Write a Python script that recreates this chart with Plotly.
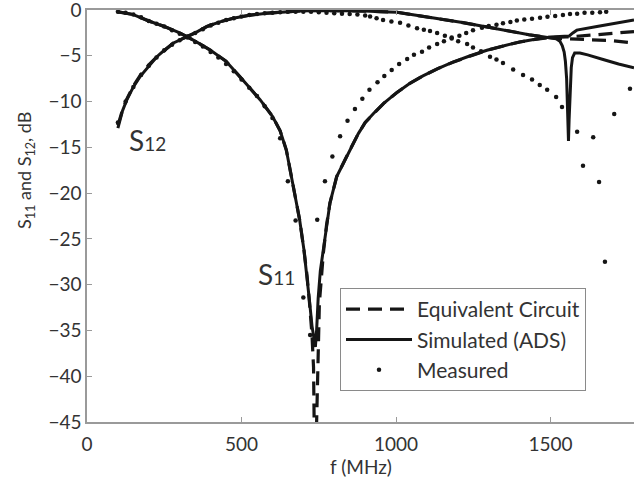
import plotly.graph_objects as go

# ---------------- data ----------------
# Simulated (ADS) S11
sim_s11_f = [100, 150, 200, 250, 300, 324, 350, 400, 450, 495, 530, 560, 600, 625, 645, 665, 688, 702,
             712, 720, 728, 735, 739, 743, 748, 755, 765, 775, 786, 808, 840, 878, 900, 927, 960, 1003,
             1045, 1087, 1135, 1184, 1240, 1294, 1350, 1400, 1450, 1500, 1530, 1550, 1560, 1572, 1585,
             1650, 1700, 1770]
sim_s11_db = [-0.2, -0.5, -1.2, -1.8, -2.5, -2.9, -3.4, -4.4, -5.6, -7.3, -8.6, -9.8, -11.6, -13.2, -15.3,
              -18.9, -22.9, -26.2, -29.0, -31.8, -34.5, -36.2, -36.8, -35.0, -31.5, -28.5, -26.2, -23.5,
              -21.1, -18.2, -16.0, -13.5, -12.3, -11.3, -10.2, -9.0, -8.0, -7.2, -6.4, -5.7, -5.0, -4.4,
              -3.9, -3.5, -3.2, -2.95, -2.9, -2.9, -2.85, -2.5, -2.2, -1.8, -1.5, -1.1]

# Simulated (ADS) S12
sim_s12_f = [100, 115, 129, 150, 171, 200, 226, 250, 280, 324, 350, 388, 430, 473, 530, 582, 640, 689,
             750, 800, 850, 900, 950, 1003, 1060, 1110, 1165, 1220, 1294, 1340, 1380, 1430, 1480, 1518,
             1530, 1538, 1544, 1548, 1552, 1554, 1556, 1558, 1560, 1562, 1564, 1567, 1571, 1578, 1595,
             1620, 1670, 1720, 1770]
sim_s12_db = [-12.9, -11.0, -9.8, -8.4, -7.3, -6.1, -5.1, -4.4, -3.6, -2.9, -2.5, -1.8, -1.3, -0.9, -0.55,
              -0.35, -0.2, -0.1, -0.05, -0.05, -0.08, -0.12, -0.18, -0.25, -0.55, -0.8, -1.1, -1.4, -1.85,
              -2.15, -2.4, -2.7, -2.95, -3.15, -3.4, -3.9, -4.6, -5.6, -7.5, -9.5, -12.0, -14.3, -12.0,
              -9.5, -7.8, -6.3, -5.2, -4.7, -4.7, -4.9, -5.4, -5.9, -6.3]

# Equivalent circuit S11
eq_s11_f = [100, 150, 200, 250, 300, 324, 350, 400, 450, 495, 530, 560, 600, 625, 645, 665, 688, 702,
            712, 720, 728, 733, 737, 740, 743, 747, 752, 765, 775, 786, 808, 840, 878, 900, 927, 960,
            1003, 1045, 1087, 1135, 1184, 1240, 1294, 1350, 1400, 1450, 1500, 1550, 1600, 1650, 1700,
            1770]
eq_s11_db = [-0.2, -0.5, -1.2, -1.8, -2.5, -2.9, -3.4, -4.4, -5.6, -7.3, -8.6, -9.8, -11.6, -13.2, -15.3,
             -18.9, -22.9, -26.2, -29.0, -32.0, -35.5, -39.0, -45.0, -60.0, -45.0, -37.0, -32.0, -26.5,
             -23.5, -21.1, -18.2, -16.0, -13.5, -12.3, -11.3, -10.2, -9.0, -8.0, -7.2, -6.4, -5.7, -5.0,
             -4.4, -3.9, -3.5, -3.2, -3.0, -2.95, -2.85, -2.7, -2.55, -2.35]

# Equivalent circuit S12
eq_s12_f = [100, 115, 129, 150, 171, 200, 226, 250, 280, 324, 350, 388, 430, 473, 530, 582, 640, 689,
            750, 800, 850, 900, 950, 1003, 1060, 1110, 1165, 1220, 1294, 1340, 1380, 1430, 1480, 1520,
            1560, 1600, 1650, 1700, 1770]
eq_s12_db = [-12.6, -10.9, -9.7, -8.3, -7.2, -6.0, -5.1, -4.4, -3.6, -2.9, -2.5, -1.8, -1.3, -0.9, -0.55,
             -0.35, -0.2, -0.1, -0.05, -0.05, -0.08, -0.12, -0.18, -0.25, -0.55, -0.8, -1.1, -1.4, -1.85,
             -2.15, -2.4, -2.7, -2.95, -3.1, -3.15, -3.2, -3.25, -3.35, -3.6]

# Measured S11
meas_s11_f = [100, 125, 150, 175, 200, 225, 250, 275, 300, 325, 350, 375, 400, 425, 450, 475, 500, 525,
              550, 575, 600, 625, 650, 675, 700, 722, 745, 770, 794, 819, 843, 867, 891, 914, 940, 962,
              986, 1010, 1036, 1058, 1084, 1107, 1133, 1155, 1180, 1205, 1227, 1249, 1278, 1300, 1325,
              1346, 1370, 1391, 1415, 1440, 1466, 1490, 1515, 1540, 1563, 1586, 1610, 1635, 1660, 1680]
meas_s11_db = [-0.2, -0.3, -0.5, -0.8, -1.2, -1.5, -1.8, -2.2, -2.6, -3.0, -3.5, -4.0, -4.6, -5.2, -5.9,
               -6.7, -7.6, -8.5, -9.4, -10.5, -11.8, -14.0, -18.7, -23.0, -31.4, -35.5, -22.9, -18.7,
               -16.0, -13.8, -12.1, -10.8, -9.7, -8.7, -7.9, -7.2, -6.55, -5.9, -5.35, -4.9, -4.55, -4.1,
               -3.7, -3.4, -3.0, -2.8, -2.5, -2.2, -1.95, -1.75, -1.6, -1.45, -1.3, -1.15, -1.05, -0.95,
               -0.85, -0.75, -0.65, -0.55, -0.45, -0.4, -0.3, -0.3, -0.25, -0.2]

# Measured S12
meas_s12_f = [100, 125, 150, 175, 200, 225, 250, 275, 300, 325, 350, 375, 400, 425, 450, 475, 500, 525,
              550, 575, 600, 625, 650, 675, 700, 725, 750, 775, 800, 825, 850, 875, 900, 916, 937, 958,
              985, 1013, 1040, 1068, 1090, 1110, 1133, 1158, 1180, 1201, 1230, 1249, 1275, 1304, 1325,
              1346, 1379, 1411, 1440, 1465, 1489, 1518, 1537, 1586, 1605, 1638, 1657, 1676, 1706, 1757]
meas_s12_db = [-12.3, -10.0, -8.4, -7.1, -6.1, -5.2, -4.4, -3.8, -3.3, -2.9, -2.5, -2.1, -1.7, -1.4, -1.1,
               -0.9, -0.7, -0.55, -0.45, -0.35, -0.3, -0.25, -0.2, -0.2, -0.2, -0.2, -0.25, -0.3, -0.35,
               -0.4, -0.45, -0.5, -0.6, -0.7, -0.9, -1.1, -1.25, -1.4, -1.7, -2.0, -2.15, -2.3, -2.5,
               -2.8, -3.1, -3.4, -3.7, -4.1, -4.5, -5.1, -5.4, -5.8, -6.5, -7.1, -7.6, -8.2, -8.7, -9.5,
               -10.6, -13.3, -17.0, -13.9, -18.8, -27.5, -11.35, -8.6]

x_ticks = [0, 500, 1000, 1500]
y_ticks = [0, -5, -10, -15, -20, -25, -30, -35, -40, -45]

# ---------------- figure ----------------
INK = "#151515"
AXIS = "#9a9a9a"
TEXT = "#333333"
FONT = "Lato"

fig = go.Figure()

fig.add_trace(go.Scatter(x=eq_s11_f, y=eq_s11_db, mode="lines", name="Equivalent Circuit",
                         legendgroup="eq", line=dict(color=INK, width=3.2, dash="14px,8px")))
fig.add_trace(go.Scatter(x=eq_s12_f, y=eq_s12_db, mode="lines", name="Equivalent Circuit",
                         legendgroup="eq", showlegend=False,
                         line=dict(color=INK, width=3.2, dash="14px,8px")))
fig.add_trace(go.Scatter(x=sim_s11_f, y=sim_s11_db, mode="lines", name="Simulated (ADS)",
                         legendgroup="sim", line=dict(color=INK, width=3)))
fig.add_trace(go.Scatter(x=sim_s12_f, y=sim_s12_db, mode="lines", name="Simulated (ADS)",
                         legendgroup="sim", showlegend=False, line=dict(color=INK, width=3)))
fig.add_trace(go.Scatter(x=meas_s11_f, y=meas_s11_db, mode="markers", name="Measured",
                         legendgroup="meas", marker=dict(color=INK, size=4.5)))
fig.add_trace(go.Scatter(x=meas_s12_f, y=meas_s12_db, mode="markers", name="Measured",
                         legendgroup="meas", showlegend=False, marker=dict(color=INK, size=4.5)))

fig.update_layout(
    width=634, height=481,
    margin=dict(l=87, r=0, t=10, b=59, autoexpand=False),
    plot_bgcolor="white", paper_bgcolor="white",
    font=dict(family=FONT, color=TEXT, size=18),
    showlegend=True,
    legend=dict(x=(340 - 87) / 547, y=(422 - 288) / 412, xanchor="left", yanchor="top",
                bordercolor="#8a8a8a", borderwidth=1, bgcolor="white",
                font=dict(family=FONT, size=21, color=TEXT),
                itemwidth=66, tracegroupgap=0),
    xaxis=dict(range=[0, 1770], tickvals=x_ticks, ticks="inside", ticklen=5, tickcolor=AXIS,
               showline=True, linecolor=AXIS, linewidth=1.5, mirror="ticks", showgrid=False,
               zeroline=False, tickfont=dict(size=19), automargin=False, ticklabeloverflow="allow",
               ticklabelstandoff=4),
    yaxis=dict(range=[-45, 0], tickvals=y_ticks, ticks="inside", ticklen=5, tickcolor=AXIS,
               showline=True, linecolor=AXIS, linewidth=1.5, showgrid=False, zeroline=False,
               tickfont=dict(size=19), automargin=False, ticklabeloverflow="allow"),
)

# axis titles
fig.add_annotation(text="f (MHz)", xref="paper", yref="paper", x=0.5, y=(422 - 453) / 412,
                   xanchor="center", yanchor="top", showarrow=False,
                   font=dict(size=19, color=TEXT))
fig.add_annotation(text="S<sub>11</sub> and S<sub>12</sub>, dB", textangle=-90,
                   xref="paper", yref="paper", x=(25 - 87) / 547, y=(422 - 171) / 412,
                   xanchor="center", yanchor="middle", showarrow=False,
                   font=dict(size=18, color=TEXT))
# curve labels
fig.add_annotation(text="S<span style='font-size:19px'>12</span>", x=195, y=-14.2,
                   xref="x", yref="y", showarrow=False, font=dict(size=28, color=TEXT))
fig.add_annotation(text="S<span style='font-size:19px'>11</span>", x=612, y=-28.8,
                   xref="x", yref="y", showarrow=False, font=dict(size=28, color=TEXT))

# remove the browser's default 8px body margin so the figure sits at the page origin
fig.write_html("out.html",
               config={"displayModeBar": False},
               post_script="document.body.style.margin='0';document.body.style.overflow='hidden';")
